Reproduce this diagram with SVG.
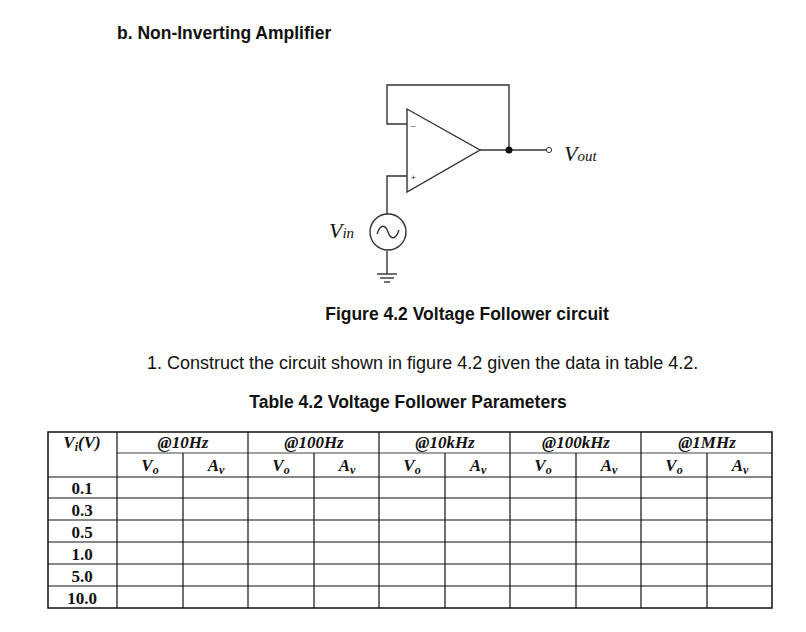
<svg xmlns="http://www.w3.org/2000/svg" width="806" height="632" viewBox="0 0 806 632">
<style>
.w{fill:none;stroke:#333;stroke-width:1.4}
.s{font-family:"Liberation Sans",Arial,sans-serif;fill:#111}
.m{font-family:"Liberation Serif",serif;font-style:italic;font-weight:bold;font-size:17px;fill:#111;text-anchor:middle}
.n{font-family:"Liberation Serif",serif;font-weight:bold;font-size:17px;fill:#111;text-anchor:middle}
.g{stroke:#111;stroke-width:1.2}
.f{stroke:#111;stroke-width:0.8}
</style>
<rect width="806" height="632" fill="#fff"/>
<text class="s" x="117" y="39" font-size="17.5" font-weight="bold">b. Non-Inverting Amplifier</text>
<g id="opamp">
<polygon class="w" points="407,109 480,150 407,192"/>
<text class="s" x="411" y="128" font-size="8">–</text>
<text class="s" x="411" y="180" font-size="8">+</text>
</g>
<g id="connectors">
<polyline class="w" points="407,124 387,124 387,85 509,85 509,150"/>
<line class="w" x1="480" y1="150" x2="546" y2="150"/>
<polyline class="w" points="407,176 387,176 387,214"/>
<line class="w" x1="387" y1="251" x2="387" y2="274"/>
<line class="w" x1="377" y1="274" x2="397" y2="274"/>
<line class="w" x1="380" y1="278" x2="394" y2="278"/>
<line class="w" x1="384" y1="282" x2="390" y2="282"/>
</g>
<g id="node"><circle cx="509" cy="150" r="3.5" fill="#111"/></g>
<g id="vout"><circle cx="549" cy="150" r="2.6" fill="#fff" stroke="#333" stroke-width="1"/>
<text x="564" y="161" font-family="Liberation Serif,serif" font-style="italic" font-size="22" fill="#111">V<tspan font-size="15">out</tspan></text></g>
<g id="vin"><circle class="w" cx="388" cy="232" r="18"/>
<path class="w" d="M377,234 C381,222 386,226 388,232 C390,238 395,242 399,230"/>
<text x="329" y="238" font-family="Liberation Serif,serif" font-style="italic" font-size="22" fill="#111">V<tspan font-size="15">in</tspan></text></g>
<text class="s" x="467" y="320" font-size="17.5" font-weight="bold" text-anchor="middle">Figure 4.2 Voltage Follower circuit</text>
<text class="s" x="147" y="369" font-size="18">1.  Construct the circuit shown in figure 4.2 given the data in table 4.2.</text>
<text class="s" x="408" y="408" font-size="17.5" font-weight="bold" text-anchor="middle">Table 4.2 Voltage Follower Parameters</text>
<g id="table">
<rect x="48" y="432" width="724" height="176" fill="none" stroke="#111" stroke-width="1.5"/>
<g class="g">
<line x1="117" y1="432" x2="117" y2="608"/><line x1="248" y1="432" x2="248" y2="608"/><line x1="379" y1="432" x2="379" y2="608"/><line x1="510" y1="432" x2="510" y2="608"/><line x1="641" y1="432" x2="641" y2="608"/>
<line x1="183" y1="453" x2="183" y2="608"/><line x1="314" y1="453" x2="314" y2="608"/><line x1="445" y1="453" x2="445" y2="608"/><line x1="576" y1="453" x2="576" y2="608"/><line x1="707" y1="453" x2="707" y2="608"/>
<line x1="48" y1="477" x2="772" y2="477"/><line x1="48" y1="498" x2="772" y2="498"/><line x1="48" y1="520" x2="772" y2="520"/><line x1="48" y1="542" x2="772" y2="542"/><line x1="48" y1="564" x2="772" y2="564"/><line x1="48" y1="586" x2="772" y2="586"/>
</g>
<line class="f" x1="117" y1="453" x2="772" y2="453"/>
<text class="m" x="82" y="448">V<tspan font-size="12" dy="3">i</tspan><tspan dy="-3">(V)</tspan></text>
<text class="m" x="183" y="448">@10Hz</text><text class="m" x="314" y="448">@100Hz</text><text class="m" x="445" y="448">@10kHz</text><text class="m" x="576" y="448">@100kHz</text><text class="m" x="707" y="448">@1MHz</text>
<text class="m" x="150" y="471">V<tspan font-size="12" dy="3">o</tspan></text><text class="m" x="216" y="471">A<tspan font-size="12" dy="3">v</tspan></text>
<text class="m" x="281" y="471">V<tspan font-size="12" dy="3">o</tspan></text><text class="m" x="347" y="471">A<tspan font-size="12" dy="3">v</tspan></text>
<text class="m" x="412" y="471">V<tspan font-size="12" dy="3">o</tspan></text><text class="m" x="478" y="471">A<tspan font-size="12" dy="3">v</tspan></text>
<text class="m" x="543" y="471">V<tspan font-size="12" dy="3">o</tspan></text><text class="m" x="609" y="471">A<tspan font-size="12" dy="3">v</tspan></text>
<text class="m" x="674" y="471">V<tspan font-size="12" dy="3">o</tspan></text><text class="m" x="740" y="471">A<tspan font-size="12" dy="3">v</tspan></text>
<text class="n" x="82" y="494">0.1</text>
<text class="n" x="82" y="516">0.3</text>
<text class="n" x="82" y="538">0.5</text>
<text class="n" x="82" y="560">1.0</text>
<text class="n" x="82" y="582">5.0</text>
<text class="n" x="82" y="604">10.0</text>
</g>
</svg>
